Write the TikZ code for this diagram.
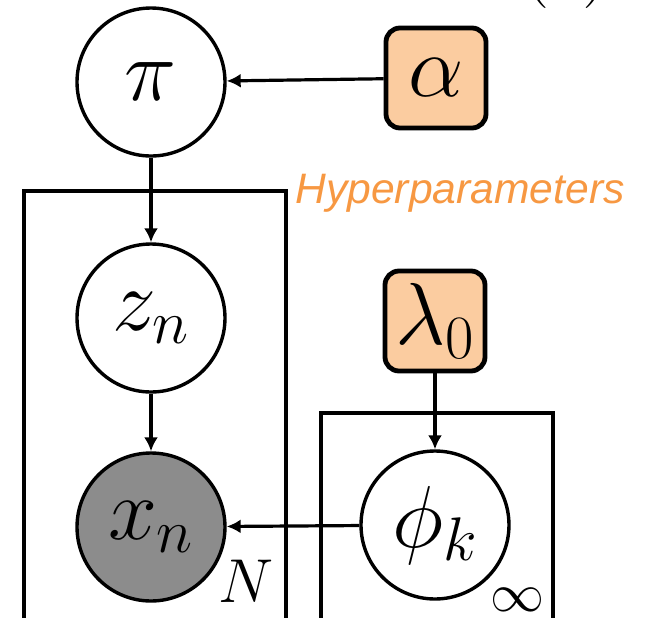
\RequirePackage{fix-cm}
\documentclass[tikz,border=0pt]{standalone}
\usepackage{fontspec}
\usepackage{tikz}
\usetikzlibrary{positioning,arrows.meta}
\newfontfamily\labelfont{Liberation Sans}
\definecolor{hyperfill}{RGB}{251,204,160}
\definecolor{hypertext}{RGB}{247,152,66}
\definecolor{obsfill}{RGB}{140,140,140}

\begin{document}
\begin{tikzpicture}[
  x=0.5pt, y=-0.5pt,
  var/.style={circle, draw=black, line width=1.7pt, fill=white,
    minimum size=74pt, inner sep=0pt, font=\fontsize{44}{50}\selectfont},
  obs/.style={var, fill=obsfill},
  hyper/.style={rectangle, rounded corners=7pt, draw=black, line width=2.4pt,
    fill=hyperfill, minimum size=50pt, inner sep=0pt, font=\fontsize{44}{50}\selectfont},
  plate/.style={draw=black, line width=1.6pt},
  platelbl/.style={inner sep=0pt, font=\fontsize{31}{36}\selectfont},
  dep/.style={-{Latex[length=7pt,width=7pt]}, line width=1.6pt},
]
\useasboundingbox (0,0) rectangle (645,618);

% --- Plates ---
\draw[plate] (24,660) -- (24,191) -- (286,191) -- (286,660);
\draw[plate] (321,660) -- (321,413) -- (553,413) -- (553,660);

% --- Nodes ---
\node[var] (pi) at (151,82) {$\pi$};
\node[hyper] (alpha) at (436,78) {$\alpha$};
\node[var] (zn) at (151,318) {$z_n$};
\node[obs] (xn) at (151,527) {$x_n$};
\node[hyper] (lam) at (435,321) {$\lambda_0$};
\node[var] (phi) at (435,525) {$\phi_k$};

% --- Labels ---
\node[platelbl] (lblN) at (246,581) {$N$};
\node[inner sep=0pt, font=\fontsize{27}{30}\selectfont] (lblinf) at (518,600) {$\infty$};
\node[inner sep=0pt, text=hypertext, font=\labelfont\itshape\fontsize{21.3}{24}\selectfont] (hyp) at (460,193) {Hyperparameters};
\node[anchor=base, inner sep=0pt, font=\fontsize{40}{44}\selectfont] (panel) at (566,-12) {(c)};

% --- Dependencies ---
\draw[dep] (alpha) -- (pi);
\draw[dep] (pi) -- (zn);
\draw[dep] (zn) -- (xn);
\draw[dep] (lam) -- (phi);
\draw[dep] (phi) -- (xn);
\end{tikzpicture}
\end{document}
